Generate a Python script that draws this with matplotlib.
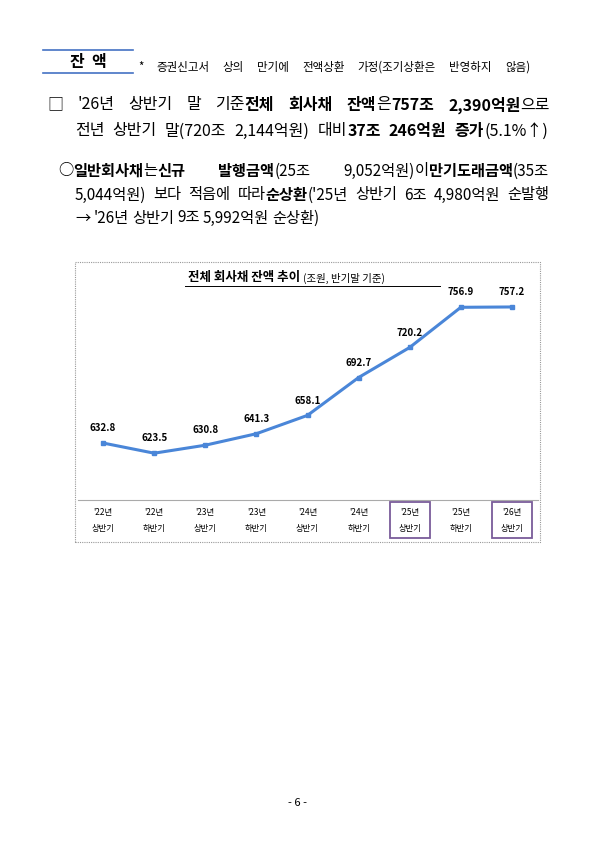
import matplotlib
matplotlib.use("Agg")
import matplotlib.pyplot as plt
from matplotlib.patches import Rectangle
from matplotlib.lines import Line2D

plt.rcParams['font.family'] = ['Noto Sans CJK KR', 'DejaVu Sans']

categories = ["'22년\n상반기", "'22년\n하반기", "'23년\n상반기", "'23년\n하반기", "'24년\n상반기",
              "'24년\n하반기", "'25년\n상반기", "'25년\n하반기", "'26년\n상반기"]
values = [632.8, 623.5, 630.8, 641.3, 658.1, 692.7, 720.2, 756.9, 757.2]
boxed = [6, 8]

W, H = 595, 841
fig = plt.figure(figsize=(W/100, H/100), dpi=100)
fig.patch.set_facecolor('white')

def fx(x): return x / W
def fy(y): return 1 - y / H

def segs(x, y, parts, size=10.5, right=None):
    """Draw segments; if right is given, spread words so the line ends at `right`."""
    fig.canvas.draw()
    r = fig.canvas.get_renderer()
    words = []
    for txt, bold in parts:
        for i, w in enumerate(txt.split(' ')):
            if w == '':
                continue
            gap_before = (i > 0) or (txt.startswith(' '))
            words.append((w, bold, gap_before))
    arts = []
    total = 0
    for w, bold, g in words:
        t = fig.text(0, fy(y), w, fontsize=size, fontweight='bold' if bold else 'normal',
                     va='center', ha='left', color='black')
        wd = t.get_window_extent(renderer=r).width
        arts.append((t, wd, g))
        total += wd
    ngaps = sum(1 for _, _, g in arts[1:] if g)
    gap = size * 0.3
    if right is not None and ngaps:
        gap = max(gap, (right - x - total) / ngaps)
    cx = x
    for i, (t, wd, g) in enumerate(arts):
        if i > 0 and g:
            cx += gap
        t.set_x(fx(cx))
        cx += wd

# header
fig.add_artist(Line2D([fx(43), fx(133)], [fy(50), fy(50)], color='#4472c4', lw=1.2))
fig.add_artist(Line2D([fx(43), fx(133)], [fy(73), fy(73)], color='#4472c4', lw=1.2))
fig.text(fx(88), fy(62), "잔  액", fontsize=11.5, fontweight='bold', ha='center', va='center')
segs(138, 67, [("* 증권신고서 상의 만기에 전액상환 가정(조기상환은 반영하지 않음)", False)], size=8.3, right=530)

segs(47, 105, [("□ '26년 상반기 말 기준 ", False), ("전체 회사채 잔액", True), ("은 ", False),
               ("757조 2,390억원", True), ("으로", False)], size=11.5, right=550)
segs(75, 131, [("전년 상반기 말(720조 2,144억원) 대비 ", False),
               ("37조 246억원 증가", True), ("(5.1%↑)", False)], size=11.5, right=548)
segs(58, 171, [("○ ", False), ("일반회사채", True), ("는 ", False), ("신규 발행금액", True),
               ("(25조 9,052억원)", False), ("이 ", False), ("만기도래금액", True), ("(35조", False)],
     size=11, right=549)
segs(75, 195, [("5,044억원) 보다 적음에 따라 ", False), ("순상환", True),
               ("('25년 상반기 6조 4,980억원 순발행", False)], size=11, right=549)
segs(75, 218, [("→ '26년 상반기 9조 5,992억원 순상환)", False)], size=11, right=318)

# chart frame
fig.add_artist(Rectangle((fx(75), fy(542)), fx(540) - fx(75), fy(262) - fy(542),
                         fill=False, ec='#999999', lw=0.8, ls=(0, (1, 1))))

ax = fig.add_axes([fx(77.5), fy(500), fx(537.5) - fx(77.5), fy(270) - fy(500)])
x = list(range(len(values)))
ax.plot(x, values, color='#4a86d8', lw=2.2, marker='s', ms=3.5)
for i, v in enumerate(values):
    ax.text(i, v + 9, f"{v:.1f}", ha='center', va='bottom', fontsize=7, fontweight='bold')
ax.set_xlim(-0.5, 8.5)
ax.set_ylim(580.7, 791)
for s in ['top', 'right', 'left']:
    ax.spines[s].set_visible(False)
ax.spines['bottom'].set_color('#aaaaaa')
ax.set_yticks([])
ax.set_xticks(x)
ax.set_xticklabels(categories, fontsize=6, linespacing=2.0)
ax.tick_params(axis='x', length=0, pad=6)
ax.patch.set_alpha(0)
fig.text(fx(300), fy(278), "전체 회사채 잔액 추이", fontsize=9, fontweight='bold', ha='right', va='center')
fig.text(fx(303), fy(278), "(조원, 반기말 기준)", fontsize=7.5, ha='left', va='center')
fig.add_artist(Line2D([fx(185), fx(440)], [fy(286), fy(286)], color='black', lw=0.7))

for b in boxed:
    cxp = 77.5 + (b + 0.5) * (460 / 9)
    fig.add_artist(Rectangle((fx(cxp - 20), fy(538)), fx(40), fy(502) - fy(538),
                             fill=False, ec='#7a5c9a', lw=1.3))

fig.text(0.5, fy(803), "- 6 -", ha='center', va='center', fontsize=8)
fig.savefig("out.png", dpi=100, facecolor='white')
